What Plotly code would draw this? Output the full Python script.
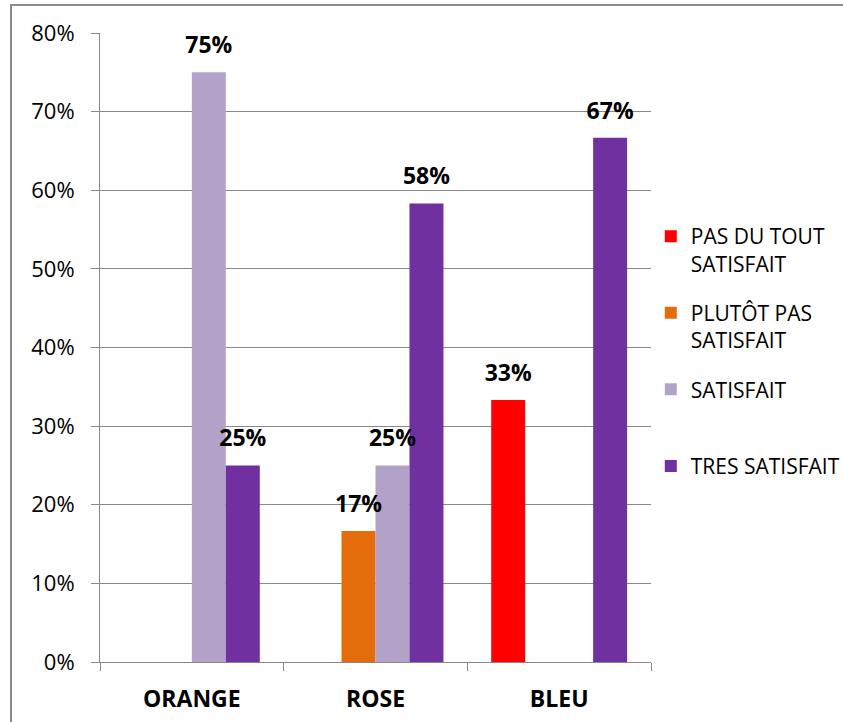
import plotly.graph_objects as go

categories = ["ORANGE", "ROSE", "BLEU"]
series_names = ["PAS DU TOUT<br>SATISFAIT", "PLUTÔT PAS<br>SATISFAIT", "SATISFAIT<br> ", "TRES SATISFAIT"]
pas_du_tout = [0.0, 0.0, 0.3333]
plutot_pas = [0.0, 0.1667, 0.0]
satisfait = [0.75, 0.25, 0.0]
tres_satisfait = [0.25, 0.5833, 0.6667]
colors = ["#FF0000", "#E46C0A", "#B3A2C7", "#7030A0"]
y_ticks = [0, 0.1, 0.2, 0.3, 0.4, 0.5, 0.6, 0.7, 0.8]

FONT = "Open Sans"
GRID = "#888888"
BAR_GAP = 0.26

all_series = [pas_du_tout, plutot_pas, satisfait, tres_satisfait]

fig = go.Figure()
for i, (name, vals) in enumerate(zip(series_names, all_series)):
    fig.add_trace(go.Bar(
        x=categories, y=vals, name=name, marker_color=colors[i],
        marker_line_width=0,
        legendgroup=f"g{i}",
        hoverinfo="skip",
    ))

# data labels (grouped the same way as the bars)
for i, vals in enumerate(all_series):
    fig.add_trace(go.Scatter(
        x=categories, y=[v if v else None for v in vals],
        mode="markers+text", orientation="v",
        marker=dict(size=20, opacity=0),
        text=[f"{round(v*100)}%" if v else "" for v in vals],
        textposition="top center",
        textfont=dict(family=FONT, size=23, color="black", weight="bold"),
        cliponaxis=False, showlegend=False, hoverinfo="skip",
    ))

fig.update_layout(
    width=843, height=722,
    margin=dict(l=100, r=192, t=33, b=60, autoexpand=False),
    paper_bgcolor="white", plot_bgcolor="white",
    barmode="group", bargap=BAR_GAP, bargroupgap=0,
    scattermode="group", scattergap=BAR_GAP,
    font=dict(family=FONT, size=21, color="black"),
    showlegend=True,
    legend=dict(
        xref="container", yref="container",
        x=0.772, y=1 - 216/722, xanchor="left", yanchor="top",
        valign="top", tracegroupgap=19,
        font=dict(family=FONT, size=21, color="black"),
        bgcolor="rgba(0,0,0,0)",
    ),
)
fig.update_xaxes(
    type="category", showline=True, linecolor=GRID, linewidth=1,
    tickson="boundaries", ticks="outside", ticklen=8, tickcolor=GRID, tickwidth=1,
    showgrid=False, ticklabelstandoff=16,
    tickfont=dict(family=FONT, size=23, weight="bold"),
)
fig.update_yaxes(
    range=[0, 0.8], tickvals=y_ticks, tickformat=".0%",
    showline=True, linecolor=GRID, linewidth=1,
    ticks="outside", ticklen=8, tickcolor=GRID, tickwidth=1,
    showgrid=True, gridcolor=GRID, gridwidth=1, zeroline=False,
    ticklabelstandoff=12,
    tickfont=dict(family=FONT, size=22),
)
fig.add_shape(type="rect", xref="paper", yref="paper",
              x0=-0.1615, x1=1.4, y0=-0.2, y1=1.0445,
              line=dict(color="#8C8C8C", width=2), fillcolor="rgba(0,0,0,0)", layer="below")

fig.write_html("out.html", config={"displayModeBar": False},
               post_script="document.body.style.margin='0px';")
